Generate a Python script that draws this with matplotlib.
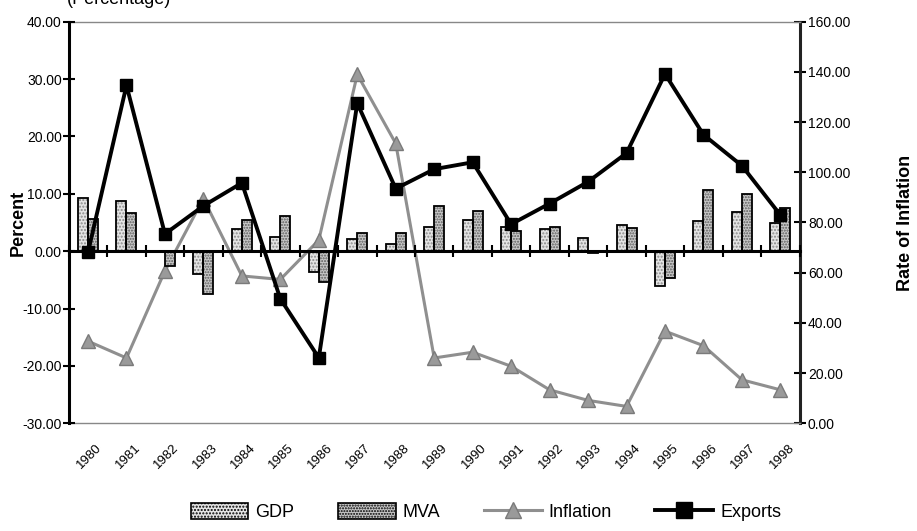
import matplotlib
matplotlib.use("Agg")
import matplotlib.pyplot as plt
import numpy as np
from matplotlib.patches import Patch
from matplotlib.lines import Line2D

plt.rcParams['font.family'] = ['Liberation Sans', 'DejaVu Sans']

years = ['1980', '1981', '1982', '1983', '1984', '1985', '1986', '1987', '1988', '1989',
         '1990', '1991', '1992', '1993', '1994', '1995', '1996', '1997', '1998']
gdp = [9.3, 8.7, -0.2, -4.0, 3.9, 2.5, -3.7, 2.2, 1.3, 4.2,
       5.4, 4.3, 3.9, 2.3, 4.6, -6.0, 5.3, 6.9, 4.9]
mva = [5.6, 6.7, -2.5, -7.5, 5.4, 6.2, -5.4, 3.1, 3.1, 7.9,
       7.0, 3.6, 4.2, -0.3, 4.1, -4.6, 10.7, 10.0, 7.6]
exports = [-0.2, 28.9, 3.0, 7.9, 11.9, -8.3, -18.6, 25.8, 10.9, 14.3,
           15.5, 4.7, 8.3, 12.1, 17.1, 30.9, 20.3, 14.9, 6.3]
inflation = [32.7, 26.0, 60.7, 89.5, 58.7, 57.3, 73.0, 139.0, 111.5, 26.0,
             28.3, 22.7, 13.3, 9.1, 6.7, 36.7, 30.9, 17.3, 13.3]
left_ticks = [-30, -20, -10, 0, 10, 20, 30, 40]
right_ticks = [0, 20, 40, 60, 80, 100, 120, 140, 160]

fig = plt.figure(figsize=(9.17, 5.31), dpi=100)
ax = fig.add_axes([0.075, 0.203, 0.797, 0.756])
ax2 = ax.twinx()
ax.set_zorder(ax2.get_zorder() + 1)
ax.patch.set_visible(False)

x = np.arange(len(years))
w = 0.26
gdp_face, gdp_hatch = '#e4e4e4', '#8a8a8a'
mva_face, mva_hatch = '#c8c8c8', '#5a5a5a'

ax.bar(x - w / 2, gdp, w, color=gdp_face, edgecolor=gdp_hatch, hatch='.....', linewidth=0, zorder=2)
ax.bar(x - w / 2, gdp, w, fill=False, edgecolor='black', linewidth=1.3, zorder=3)
ax.bar(x + w / 2, mva, w, color=mva_face, edgecolor=mva_hatch, hatch='......', linewidth=0, zorder=2)
ax.bar(x + w / 2, mva, w, fill=False, edgecolor='black', linewidth=1.3, zorder=3)

ax.plot(x, exports, color='black', linewidth=2.8, marker='s', markersize=8.5, zorder=5)
ax2.plot(x, inflation, color='#8f8f8f', linewidth=2.2, marker='^', markersize=10,
         markerfacecolor='#9a9a9a', markeredgecolor='#7a7a7a', zorder=4)

ax.set_xlim(-0.5, len(years) - 0.5)
ax.set_ylim(-30, 40)
ax2.set_ylim(0, 160)

ax.set_yticks(left_ticks)
ax.set_yticklabels([f'{v:.2f}' for v in left_ticks])
ax2.set_yticks(right_ticks)
ax2.set_yticklabels([f'{v:.2f}' for v in right_ticks])

# spines
ax.spines['bottom'].set_position(('data', 0))
ax.spines['bottom'].set_linewidth(2.2)
ax.spines['left'].set_linewidth(2.2)
ax.spines['top'].set_visible(False)
ax.spines['right'].set_visible(False)
ax2.spines['left'].set_visible(False)
ax2.spines['right'].set_linewidth(2.2)
ax2.spines['right'].set_color('#222222')
for s in ('top', 'bottom'):
    ax2.spines[s].set_color('#888888')
    ax2.spines[s].set_linewidth(1.0)
    ax2.spines[s].set_linestyle((0, (1, 1)))

# x ticks at category boundaries, crossing the zero line
ax.set_xticks(np.arange(len(years) + 1) - 0.5)
ax.set_xticklabels([])
ax.tick_params(axis='x', direction='inout', length=9, width=1.5)
ax.tick_params(axis='y', direction='inout', length=8, width=1.5, labelsize=10, pad=1)
ax2.tick_params(axis='y', direction='inout', length=8, width=1.5, labelsize=10, pad=2)

trans = ax.get_xaxis_transform()
for xi, lab in zip(x, years):
    ax.text(xi + 0.2, -0.045, lab, transform=trans, rotation=45, ha='right', va='top',
            rotation_mode='anchor', fontsize=9.5, family=['Liberation Sans Narrow', 'Liberation Sans'])

ax.set_ylabel('Percent', fontsize=13, fontweight='bold')
ax.yaxis.set_label_coords(-0.057, 0.5)
ax2.set_ylabel('Rate of Inflation', fontsize=13, fontweight='bold')
ax2.yaxis.set_label_coords(1.133, 0.5)

fig.text(0.13, 1 - 4 / 531, '(Percentage)', fontsize=13, ha='center', va='baseline')

handles = [
    Patch(facecolor=gdp_face, edgecolor='black', hatch='.....', linewidth=1.2),
    Patch(facecolor=mva_face, edgecolor='black', hatch='......', linewidth=1.2),
    Line2D([], [], color='#8f8f8f', linewidth=2.2, marker='^', markersize=11,
           markerfacecolor='#9a9a9a', markeredgecolor='#7a7a7a'),
    Line2D([], [], color='black', linewidth=2.8, marker='s', markersize=11),
]
fig.legend(handles, ['GDP', 'MVA', 'Inflation', 'Exports'], loc='lower center',
           bbox_to_anchor=(0.53, -0.012), ncol=4, frameon=False, fontsize=13,
           handlelength=3.2, handleheight=1.0, columnspacing=2.4, handletextpad=0.4)

fig.savefig('out.png', dpi=100)
